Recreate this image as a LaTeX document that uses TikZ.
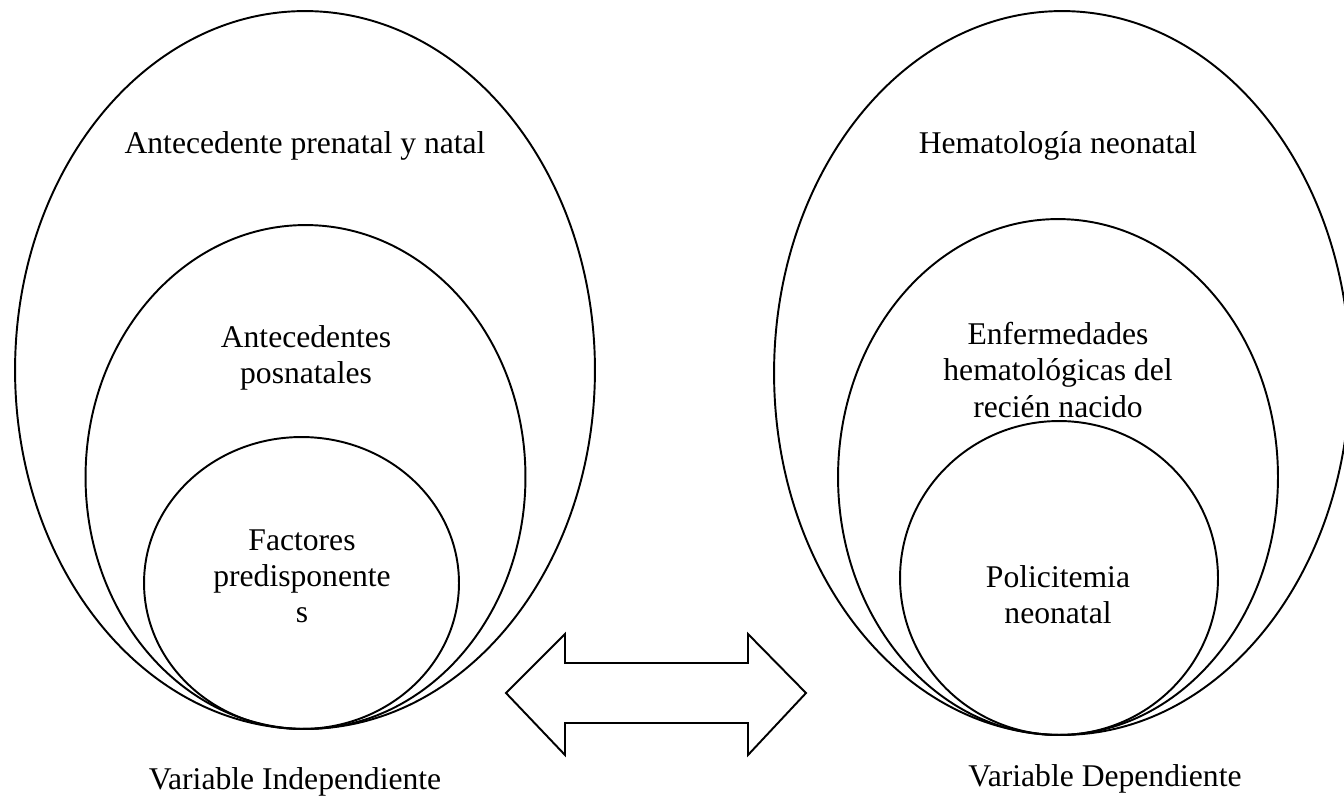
\documentclass[tikz,border=0pt]{standalone}
\usepackage{fontspec}
\setmainfont{Liberation Serif}

\begin{document}
\begin{tikzpicture}[x=0.02cm, y=-0.02cm, line width=1.1pt,
    texto/.style={align=center, inner sep=0pt, font=\fontsize{18}{20.5}\selectfont}]

        \useasboundingbox (0,0) rectangle (1344,801);

        % Variable independiente
        \draw (305,370) ellipse [x radius=5.8cm, y radius=7.18cm];
        \draw (305.5,477) ellipse [x radius=4.4cm, y radius=5.04cm];
        \draw (301.5,583) ellipse [x radius=3.15cm, y radius=2.92cm];

        % Variable dependiente
        \draw (1062,373) ellipse [x radius=5.76cm, y radius=7.24cm];
        \draw (1058,477) ellipse [x radius=4.4cm, y radius=5.16cm];
        \draw (1059,578) ellipse [x radius=3.18cm, y radius=3.14cm];

        % Textos izquierda
        \node[texto] at (305,146) (prenatal) {Antecedente prenatal y natal};
        \node[texto] at (306,358) (posnatal) {Antecedentes\\posnatales};
        \node[texto] at (302,576) (factores) {Factores\\predisponente\\s};
        \node[texto] at (295,782) (indep) {Variable Independiente};

        % Textos derecha
        \node[texto] at (1058,146) (hemato) {Hematología neonatal};
        \node[texto] at (1058,370) (enfermedades) {Enfermedades\\hematológicas del\\recién nacido};
        \node[texto] at (1058,595) (policitemia) {Policitemia\\neonatal};
        \node[texto] at (1105,779) (dep) {Variable Dependiente};

        % Flecha doble
        \draw (506,693) -- (565,634) -- (565,663) -- (748,663) -- (748,634)
            -- (806,693) -- (748,755) -- (748,723) -- (565,723) -- (565,755) -- cycle;

    \end{tikzpicture}
\end{document}
